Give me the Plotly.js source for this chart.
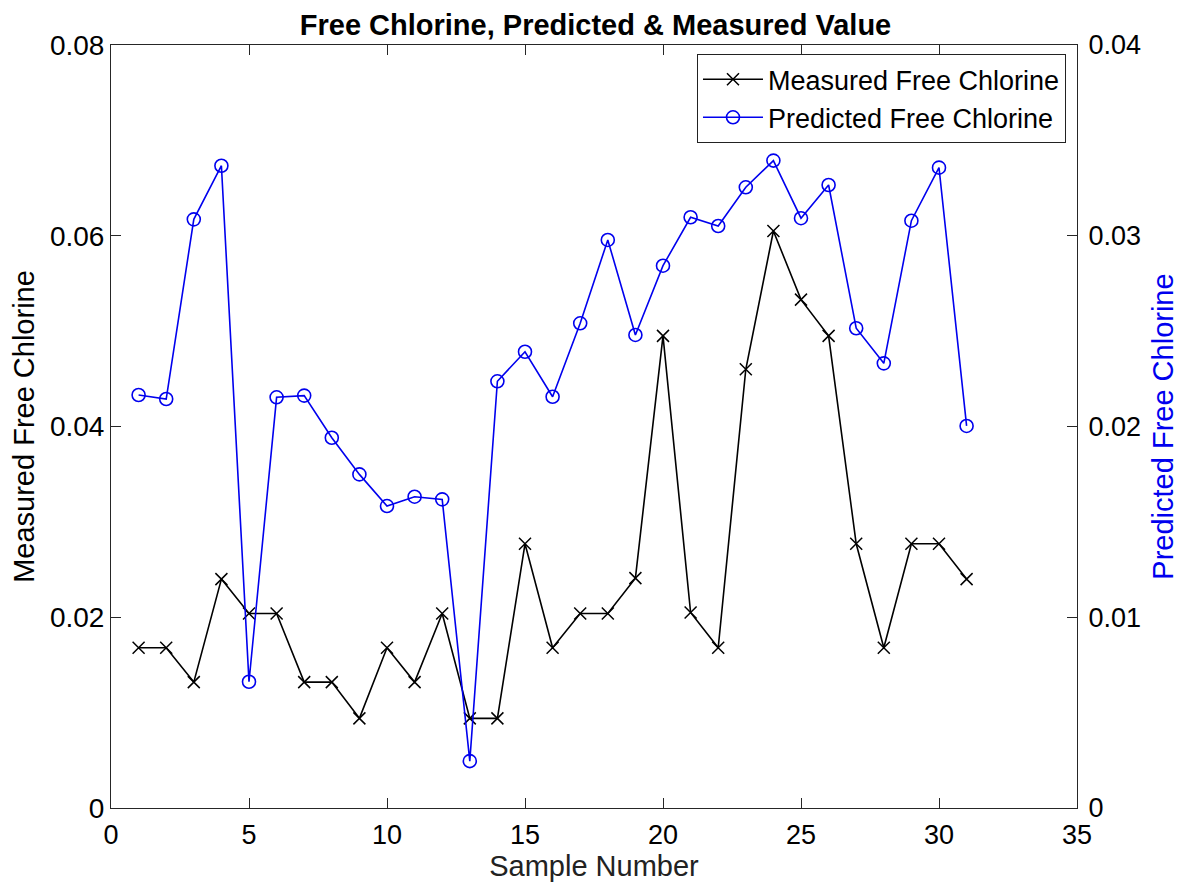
<!DOCTYPE html>
<html>
<head>
<meta charset="utf-8">
<script src="https://cdn.plot.ly/plotly-3.0.1.min.js"></script>
<style>html,body{margin:0;padding:0;background:#fff;}#chart{width:1191px;height:892px;}</style>
</head>
<body>
<div id="chart"></div>
<script>
var sampleNumbers = [1,2,3,4,5,6,7,8,9,10,11,12,13,14,15,16,17,18,19,20,21,22,23,24,25,26,27,28,29,30,31];
var measuredFreeChlorine = [0.0168,0.0168,0.0132,0.0240,0.0204,0.0204,0.0132,0.0132,0.0094,0.0168,0.0132,0.0204,0.0094,0.0094,0.0277,0.0168,0.0204,0.0204,0.0241,0.0495,0.0205,0.0168,0.0460,0.0605,0.0533,0.0495,0.0277,0.0168,0.0277,0.0277,0.0240];
var predictedFreeChlorine = [0.02165,0.02144,0.03086,0.03367,0.00662,0.02153,0.02162,0.01941,0.01749,0.01583,0.01632,0.01618,0.00246,0.02237,0.02392,0.02156,0.02541,0.02978,0.02480,0.02843,0.03097,0.03051,0.03254,0.03394,0.03092,0.03266,0.02515,0.02331,0.03079,0.03357,0.02003];
var xTicks = [0,5,10,15,20,25,30,35];
var leftTicks = [0,0.02,0.04,0.06,0.08];
var leftTickLabels = ['0','0.02','0.04','0.06','0.08'];
var rightTicks = [0,0.01,0.02,0.03,0.04];
var rightTickLabels = ['0','0.01','0.02','0.03','0.04'];

var FONT = 'Liberation Sans, Arial, Helvetica, sans-serif';
var BLUE = '#0000ee';

var traces = [
  {
    x: sampleNumbers, y: measuredFreeChlorine, name: 'Measured Free Chlorine',
    type: 'scatter', mode: 'lines+markers',
    line: {color: '#000000', width: 1.6},
    marker: {symbol: 'x-thin-open', size: 12, color: '#000000', line: {color: '#000000', width: 1.5}}
  },
  {
    x: sampleNumbers, y: predictedFreeChlorine, name: 'Predicted Free Chlorine',
    type: 'scatter', mode: 'lines+markers', yaxis: 'y2',
    line: {color: BLUE, width: 1.6},
    marker: {symbol: 'circle-open', size: 13, color: BLUE, line: {color: BLUE, width: 1.6}}
  }
];

var layout = {
  width: 1191, height: 892,
  margin: {l: 111, r: 114, t: 45, b: 84},
  paper_bgcolor: '#ffffff', plot_bgcolor: '#ffffff',
  font: {family: FONT, size: 28, color: '#000000'},
  title: {text: '<b>Free Chlorine, Predicted &amp; Measured Value</b>', x: 0.5, xanchor: 'center', y: 0.972, yanchor: 'middle', font: {family: FONT, size: 29, color: '#000000'}},
  showlegend: true,
  legend: {
    x: 0.9886, xanchor: 'right', y: 0.988, yanchor: 'top',
    bgcolor: '#ffffff', bordercolor: '#222222', borderwidth: 1,
    font: {family: FONT, size: 27, color: '#000000'},
    itemwidth: 60, tracegroupgap: 0
  },
  xaxis: {
    range: [0, 35], tickvals: xTicks, ticktext: xTicks.map(String),
    showgrid: false, zeroline: false, showline: true, linecolor: '#262626', linewidth: 1,
    mirror: 'ticks', ticks: 'inside', ticklen: 10, tickcolor: '#262626', tickwidth: 1,
    ticklabelstandoff: 3,
    tickfont: {family: FONT, size: 27, color: '#000000'},
    title: {text: 'Sample Number', font: {family: FONT, size: 29, color: '#222222'}, standoff: 6}
  },
  yaxis: {
    range: [0, 0.08], tickvals: leftTicks, ticktext: leftTickLabels,
    showgrid: false, zeroline: false, showline: true, linecolor: '#262626', linewidth: 1,
    ticks: 'inside', ticklen: 10, tickcolor: '#262626', tickwidth: 1,
    tickfont: {family: FONT, size: 28, color: '#000000'},
    title: {text: 'Measured Free Chlorine', font: {family: FONT, size: 29, color: '#000000'}, standoff: 6}
  },
  yaxis2: {
    range: [0, 0.04], tickvals: rightTicks, ticktext: rightTickLabels,
    overlaying: 'y', side: 'right', anchor: 'x',
    showgrid: false, zeroline: false, showline: true, linecolor: '#262626', linewidth: 1,
    ticks: 'inside', ticklen: 10, tickcolor: '#262626', tickwidth: 1,
    ticklabelstandoff: 5,
    tickfont: {family: FONT, size: 27, color: '#000000'},
    title: {text: 'Predicted Free Chlorine', font: {family: FONT, size: 29, color: BLUE}, standoff: 12}
  }
};

Plotly.newPlot('chart', traces, layout, {displayModeBar: false, staticPlot: true});
</script>
</body>
</html>
